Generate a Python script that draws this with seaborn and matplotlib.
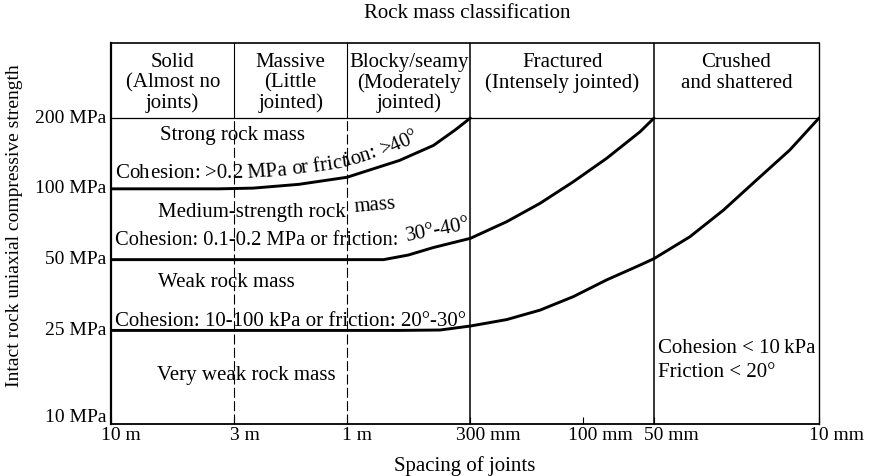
import matplotlib
matplotlib.use("Agg")
import matplotlib.pyplot as plt
import matplotlib.transforms as mtransforms
import numpy as np
import pandas as pd
import seaborn as sns

# Rock-mass strength boundaries: joint spacing (mm) vs intact strength (MPa)
strong_spacing = [10000, 3500, 2500, 1600, 1000, 600, 430, 348, 300]
strong_strength = [100, 100, 100.7, 104.5, 112, 132, 153, 178, 200]

medium_spacing = [10000, 700, 550, 430, 300, 210.5, 152, 109.9, 79.4, 57.3, 50]
medium_strength = [50, 50, 52.3, 56.3, 61.6, 72.5, 86.8, 107.2, 134.8, 174.9, 200]

weak_spacing = [10000, 600, 403.6, 300, 210.5, 152, 109.9, 79.4, 57.3, 50,
                35.2, 25.4, 18.4, 13.3, 10]
weak_strength = [25, 25, 25.1, 26.1, 27.8, 30.5, 34.8, 41.0, 47.4, 50.5,
                 62.6, 81.2, 109, 146.2, 200]

# Axis ticks
x_ticks = [10000, 3000, 1000, 300, 100, 50, 10]
x_tick_labels = ["10 m", "3 m", "1 m", "300 mm", "100 mm", "50 mm", "10 mm"]
y_ticks = [10, 25, 50, 100, 200]
y_tick_labels = ["10 MPa", "25 MPa", "50 MPa", "100 MPa", "200 MPa"]

# Joint-spacing classes shown in the header row
class_edges = [10000, 3000, 1000, 300, 50, 10]
class_names = [
    "Solid\n(Almost no\njoints)",
    "Massive\n(Little\njointed)",
    "Blocky/seamy\n(Moderately\njointed)",
    "Fractured\n(Intensely jointed)",
    "Crushed\nand shattered",
]
header_baselines = [329.5, 269.6, 220.6]

boundaries = pd.concat([
    pd.DataFrame({"spacing": strong_spacing, "strength": strong_strength, "boundary": "strong"}),
    pd.DataFrame({"spacing": medium_spacing, "strength": medium_strength, "boundary": "medium"}),
    pd.DataFrame({"spacing": weak_spacing, "strength": weak_strength, "boundary": "weak"}),
], ignore_index=True)

sns.set_theme(style="white")
plt.rcParams["font.family"] = ["Liberation Serif", "DejaVu Serif"]

FS = 15
TFS = 14
W, H = 871, 476
fig = plt.figure(figsize=(W / 100, H / 100), dpi=100)
left, right, bottom, top = 111, 819, 424, 43
ax = fig.add_axes([left / W, 1 - bottom / H, (right - left) / W, (bottom - top) / H])

ax.set_xscale("log")
ax.set_yscale("log")
ax.set_xlim(10000, 10)
header_top = 417
ax.set_ylim(10, header_top)

for name, grp in boundaries.groupby("boundary", sort=False):
    sns.lineplot(data=grp, x="spacing", y="strength", ax=ax, color="black",
                 lw=2.1, estimator=None, sort=False, legend=False)

# Header row separator
ax.axhline(200, color="black", lw=0.9)

# Class divisions
for edge in class_edges[1:-1]:
    if edge in (3000, 1000):
        ax.plot([edge, edge], [200, header_top], color="black", lw=0.8)
        ax.plot([edge, edge], [10, 200], color="black", lw=0.8, ls=(0, (9, 3)))
    else:
        ax.plot([edge, edge], [10, header_top], color="black", lw=1.1)

for spine in ax.spines.values():
    spine.set_color("black")
ax.spines["left"].set_linewidth(1.6)
ax.spines["bottom"].set_linewidth(1.3)
ax.spines["top"].set_linewidth(1.2)
ax.spines["right"].set_linewidth(1.0)

ax.set_xticks(x_ticks)
ax.set_yticks(y_ticks)
ax.minorticks_off()
ax.tick_params(axis="x", direction="in", length=5, width=0.8, colors="black",
               labelbottom=False, bottom=True)
ax.tick_params(axis="y", length=0, labelleft=False)
ax.set_xlabel("")
ax.set_ylabel("")

renderer = fig.canvas.get_renderer()


def text_width(s, size):
    """Advance width of a string in pixels (a bar is appended so trailing spaces count)."""
    probe = ax.text(0, 0, s + "|", fontsize=size)
    bar = ax.text(0, 0, "|", fontsize=size)
    w = probe.get_window_extent(renderer).width - bar.get_window_extent(renderer).width
    probe.remove()
    bar.remove()
    return w


def text_along(xs, ys, s, start_px, offset_px, size):
    """Lay a label out character by character along a boundary curve."""
    pts = ax.transData.transform(np.column_stack([xs, ys]))
    seg = np.diff(pts, axis=0)
    seglen = np.hypot(seg[:, 0], seg[:, 1])
    cum = np.concatenate([[0.0], np.cumsum(seglen)])
    for i, ch in enumerate(s):
        if ch == " ":
            continue
        w0 = text_width(s[:i], size)
        w1 = text_width(s[:i + 1], size)
        pos = start_px + (w0 + w1) / 2
        k = int(np.clip(np.searchsorted(cum, pos) - 1, 0, len(seg) - 1))
        t = (pos - cum[k]) / seglen[k]
        p = pts[k] + t * seg[k]
        ang = np.arctan2(seg[k, 1], seg[k, 0])
        n = np.array([-np.sin(ang), np.cos(ang)])
        q = p + n * offset_px
        ax.text(q[0], q[1], ch, transform=mtransforms.IdentityTransform(),
                rotation=np.degrees(ang), rotation_mode="anchor",
                ha="center", va="baseline", fontsize=size, color="black")


# Tick labels: the number sits centred on its tick, the unit trails after it
xtrans = ax.get_xaxis_transform()
for xv, lab in zip(x_ticks, x_tick_labels):
    probe = ax.text(0, 0, lab.split(" ")[0], fontsize=TFS)
    w = probe.get_window_extent(renderer).width
    probe.remove()
    tr = mtransforms.offset_copy(xtrans, fig=fig, x=-w / 2, y=-3, units="dots")
    ax.text(xv, 0, lab, transform=tr, ha="left", va="top", fontsize=TFS, color="black")

ytrans = ax.get_yaxis_transform()
for yv, lab in zip(y_ticks, y_tick_labels):
    dy = 6 if yv == y_ticks[0] else 0
    tr = mtransforms.offset_copy(ytrans, fig=fig, x=-5, y=dy, units="dots")
    ax.text(0, yv, lab, transform=tr, ha="right", va="center", fontsize=TFS, color="black")

# Header text
for lo, hi, name in zip(class_edges[:-1], class_edges[1:], class_names):
    for yb, line in zip(header_baselines, name.split("\n")):
        ax.text((lo * hi) ** 0.5, yb, line, ha="center", va="baseline", fontsize=FS,
                color="black")

fig.text(467 / W, 1 - 14 / H, "Rock mass classification", ha="center", va="center",
         fontsize=FS, color="black")
fig.text(465 / W, 1 - 466 / H, "Spacing of joints", ha="center", va="center",
         fontsize=FS, color="black")
fig.text(15 / W, 1 - 226 / H, "Intact rock uniaxial compressive strength", ha="center",
         va="center", rotation=90, fontsize=TFS, color="black")

# Zone labels
kw = dict(fontsize=FS, color="black", rotation_mode="anchor")
ax.text(3070, 169, "Strong rock mass", ha="center", va="center", **kw)
text_along(strong_spacing, strong_strength, "Cohesion: >0.2 MPa or friction: >40°",
           4, 10.5, FS)

ax.text(6320, 75.8, "Medium-strength rock", ha="left", va="baseline", **kw)
ax.text(925, 80, "mass", ha="left", va="baseline", rotation=5, **kw)
ax.text(9617, 57.6, "Cohesion: 0.1-0.2 MPa or friction:", ha="left", va="baseline",
        fontsize=14.8, color="black")
ax.text(557, 60.0, "30°-40°", ha="left", va="baseline", rotation=11, **kw)

ax.text(6320, 38.2, "Weak rock mass", ha="left", va="baseline", **kw)
ax.text(9617, 26.2, "Cohesion: 10-100 kPa or friction: 20°-30°", ha="left", va="baseline", **kw)

ax.text(6385, 16.1, "Very weak rock mass", ha="left", va="center", **kw)
ax.text(48.1, 21.0, "Cohesion < 10\u2009kPa", ha="left", va="center", **kw)
ax.text(48.1, 16.6, "Friction < 20°", ha="left", va="center", **kw)

fig.savefig("out.png", dpi=100)
